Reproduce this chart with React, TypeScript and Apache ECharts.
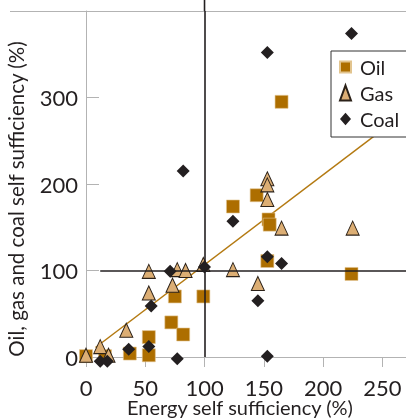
import React, { useEffect, useRef } from 'react';
import * as echarts from 'echarts';

// Energy self sufficiency (%) vs fuel self sufficiency (%)
const xTickValues = [0, 50, 100, 150, 200, 250];
const yTickValues = [0, 100, 200, 300];
const yAxisTitle = 'Oil, gas and coal self sufficiency (%)';
const xAxisTitle = 'Energy self sufficiency (%)';

const oilData: number[][] = [
  [0, 1], [16, 1], [37, 4], [53, 2], [53, 23], [72, 40], [82, 26], [75, 70],
  [99, 70], [124, 174], [144, 187], [154, 159], [155, 153], [153, 111],
  [165, 295], [224, 96],
];
const gasData: number[][] = [
  [0, 2], [12, 12], [19, 2], [34, 31], [53, 74], [53, 99], [73, 83], [77, 101],
  [84, 100], [99, 107], [124, 101], [145, 85], [153, 206], [153, 199],
  [153, 182], [165, 149], [225, 149],
];
const coalData: number[][] = [
  [12, -5], [18, -5], [36, 9], [53, 12], [55, 59], [71, 99], [77, -2], [82, 215],
  [100, 104], [124, 157], [145, 65], [153, 116], [153, 1], [153, 352],
  [165, 108], [224, 374],
];
const trendData: number[][] = [[8, 11], [262, 275]];
const refLineX = 100;
const refLineY = 100;

export default function App() {
  const ref = useRef<HTMLDivElement>(null);
  useEffect(() => {
    document.body.style.margin = '0';
    document.body.style.overflow = 'hidden';
    document.documentElement.style.overflow = 'hidden';
    const chart = echarts.init(ref.current!, null, { renderer: 'svg' });
    const font = 'Lato, "Liberation Sans", sans-serif';
    const ink = '#231f20';
    const grey = '#b3b3b3';
    const oilColor = '#ad6e00';
    const gasColor = '#dcae74';
    chart.setOption({
      animation: false,
      textStyle: { fontFamily: font },
      grid: { left: 86, top: 11, width: 320, height: 346, containLabel: false, outerBoundsMode: 'none' },
      xAxis: {
        type: 'value', min: 0, max: 270, interval: 50,
        name: xAxisTitle, nameLocation: 'middle', nameGap: 40, nameMoveOverlap: false,
        nameTextStyle: { fontSize: 20, lineHeight: 20, color: ink, fontFamily: font, padding: [0, 12, 0, 0] },
        axisLine: { show: true, lineStyle: { color: grey, width: 1 } },
        axisTick: { show: true, length: 10, lineStyle: { color: grey } },
        axisLabel: {
          fontSize: 22, lineHeight: 18, color: ink, margin: 21, fontFamily: font,
          formatter: (v: number) => (xTickValues.includes(v) ? String(v) : ''),
        },
        splitLine: { show: false },
      },
      yAxis: {
        type: 'value', min: 0, max: 400, interval: 100,
        axisLine: { show: true, lineStyle: { color: grey, width: 1 } },
        axisTick: { show: true, inside: true, length: 13, lineStyle: { color: grey } },
        axisLabel: {
          fontSize: 22, color: ink, margin: 8, fontFamily: font,
          formatter: (v: number) => (yTickValues.includes(v) ? String(v) : ''),
        },
        splitLine: { show: false },
      },
      legend: {
        orient: 'vertical', left: 331, top: 51,
        padding: [6, 12, 8, 8], itemWidth: 15, itemHeight: 15, itemGap: 6,
        backgroundColor: '#fff', borderColor: '#333', borderWidth: 1, borderRadius: 0,
        textStyle: { fontSize: 20, color: ink, fontFamily: font, lineHeight: 20 },
        data: [
          { name: 'Oil', icon: 'path://M0,0M15,15M0,2L11,2L11,13L0,13Z' },
          { name: 'Gas', icon: 'path://M0,0M15,15M5.5,0L11,15L0,15Z' },
          { name: 'Coal', icon: 'path://M0,0M15,15M5.5,1.25L11,7.5L5.5,13.75L0,7.5Z' },
        ],
      },
      series: [
        {
          type: 'line', name: 'trend', data: trendData, symbol: 'none', z: 1,
          lineStyle: { color: '#b47a12', width: 1.5 }, clip: false,
          markLine: {
            silent: true, symbol: 'none', label: { show: false },
            lineStyle: { color: ink, width: 1.6, type: 'solid' },
            data: [
              [{ coord: [refLineX, 0] }, { coord: [refLineX, 400] }],
              [{ coord: [12, refLineY] }, { coord: [270, refLineY] }],
            ],
          },
        },
        {
          type: 'scatter', name: 'Oil', data: oilData, symbol: 'rect', symbolSize: 13, z: 3, clip: false,
          itemStyle: { color: oilColor, borderColor: '#e2c48e', borderWidth: 0.6, opacity: 1 },
        },
        {
          type: 'scatter', name: 'Gas', data: gasData, symbol: 'triangle', symbolSize: [13, 14], z: 4, clip: false,
          itemStyle: { color: gasColor, borderColor: '#2b2118', borderWidth: 1, opacity: 1 },
        },
        {
          type: 'scatter', name: 'Coal', data: coalData, symbol: 'diamond', symbolSize: 13, z: 5, clip: false,
          itemStyle: { color: ink, opacity: 1 },
        },
      ],
    });
    const top = chart.convertToPixel({ gridIndex: 0 }, [refLineX, 400]) as number[];
    chart.setOption({
      graphic: [
        {
          type: 'line', z: 0, silent: true,
          shape: { x1: 10, y1: top[1] + 0.5, x2: 406, y2: top[1] + 0.5 },
          style: { stroke: grey, lineWidth: 1 },
        },
        {
          type: 'line', z: 0, silent: true,
          shape: { x1: top[0], y1: 0, x2: top[0], y2: top[1] },
          style: { stroke: ink, lineWidth: 1.6 },
        },
        {
          type: 'text', z: 10, silent: true,
          x: 16, y: 199, rotation: Math.PI / 2,
          style: {
            text: yAxisTitle, fill: ink, fontSize: 20.5, fontFamily: font,
            textAlign: 'center', textVerticalAlign: 'middle',
          },
        },
      ],
    });
    return () => chart.dispose();
  }, []);
  return (
    <div
      ref={ref}
      style={{ position: 'fixed', left: 0, top: 0, width: 406, height: 419 }}
    />
  );
}
